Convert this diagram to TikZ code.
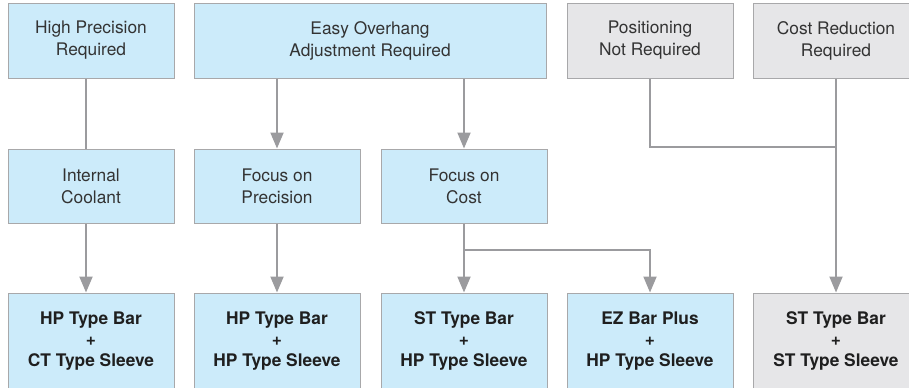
\documentclass[tikz,border=0pt]{standalone}
\usepackage{fontspec}
\setmainfont{TeX Gyre Heros}
\usetikzlibrary{arrows.meta}
\definecolor{boxblue}{HTML}{CCEBFA}
\definecolor{boxgray}{HTML}{E6E6E8}
\definecolor{edgegray}{HTML}{A8A8AA}
\definecolor{linegray}{HTML}{9B9B9E}
\definecolor{textgray}{HTML}{333333}

\begin{document}
\begin{tikzpicture}[x=0.75pt, y=-0.75pt,
  every node/.style={font=\fontsize{13}{16.5}\selectfont, align=center, text=textgray},
  box/.style={draw=edgegray, line width=0.75pt, fill=boxblue, inner sep=0pt,
    minimum width=124.5pt, minimum height=55.5pt},
  greybox/.style={box, fill=boxgray},
  result/.style={minimum height=72pt, font=\fontsize{13}{15.75}\selectfont\bfseries, text=black!88},
  link/.style={draw=linegray, line width=1.5pt},
  arr/.style={link, -{Triangle[length=12pt, width=9.75pt]}}]
  \useasboundingbox (0,0) rectangle (909,387);
  % top row
  \node[box, minimum height=56.25pt] (hpr) at (91,40.5) {High Precision\\Required};
  \node[box, minimum height=56.25pt, minimum width=264pt] (eoa) at (370,40.5) {Easy Overhang\\Adjustment Required};
  \node[greybox, minimum height=56.25pt] (pnr) at (650,40.5) {Positioning\\Not Required};
  \node[greybox, minimum height=56.25pt] (crr) at (836,40.5) {Cost Reduction\\Required};
  % middle row
  \node[box] (ic) at (91,186) {Internal\\Coolant};
  \node[box] (fp) at (277,186) {Focus on\\Precision};
  \node[box] (fc) at (464,186) {Focus on\\Cost};
  % bottom row
  \node[box, result] (r1) at (91,341) {HP Type Bar\\+\\CT Type Sleeve};
  \node[box, result] (r2) at (277,341) {HP Type Bar\\+\\HP Type Sleeve};
  \node[box, result] (r3) at (464,341) {ST Type Bar\\+\\HP Type Sleeve};
  \node[box, result] (r4) at (650,341) {EZ Bar Plus\\+\\HP Type Sleeve};
  \node[greybox, result] (r5) at (836,341) {ST Type Bar\\+\\ST Type Sleeve};
  % connectors
  \coordinate (cs) at (464,250);
  \coordinate (ps) at (836,147);
  \draw[link] ([xshift=-3.75pt]hpr.south) -- ([xshift=-3.75pt]ic.north);
  \draw[arr] ([xshift=-3.75pt]ic.south) -- ([xshift=-3.75pt]r1.north);
  \draw[arr] (eoa.south -| fp.north) -- (fp.north);
  \draw[arr] (eoa.south -| fc.north) -- (fc.north);
  \draw[arr] (fp.south) -- (r2.north);
  \draw[arr] (fc.south) -- (r3.north);
  \draw[arr] (cs) -| (r4.north);
  \draw[link] (pnr.south) |- (ps);
  \draw[arr] (crr.south) -- (r5.north);
\end{tikzpicture}
\end{document}
